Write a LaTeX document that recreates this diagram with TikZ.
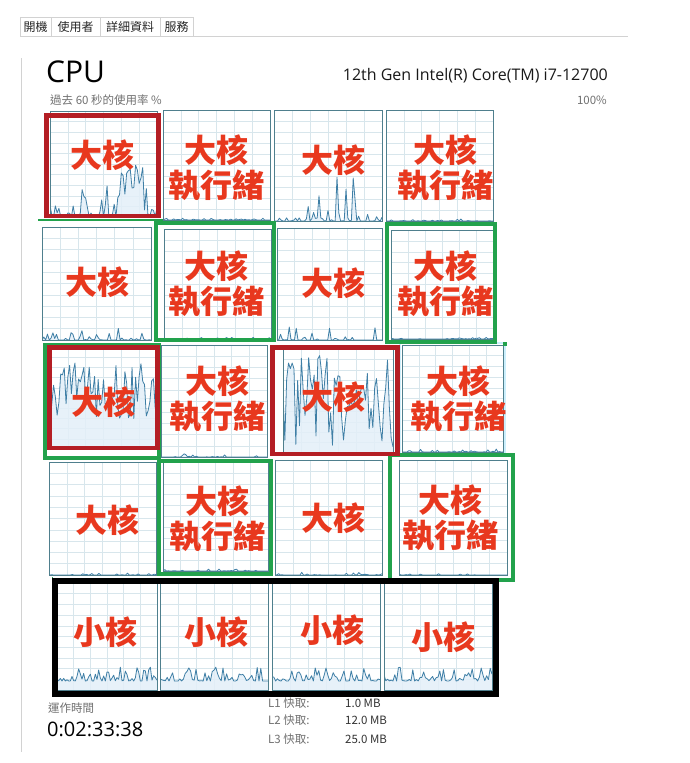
\documentclass[tikz,border=0pt]{standalone}
\usepackage{fontspec}
\setmainfont{Open Sans}
\newfontfamily\cjk{Noto Sans CJK TC}
\definecolor{gridcol}{HTML}{D8E6EC}
\definecolor{framecol}{HTML}{4F7F8D}
\definecolor{linecol}{HTML}{3F7FA6}
\definecolor{fillcol}{HTML}{E3EFF8}
\definecolor{redcol}{HTML}{B41E24}
\definecolor{greencol}{HTML}{22A24C}
\definecolor{labelcol}{HTML}{E8381E}
\definecolor{txtgray}{HTML}{707070}
\definecolor{tabline}{HTML}{D2D2D2}
\tikzset{
  gridc/.style={draw=gridcol, line width=0.6pt},
  cellframe/.style={draw=framecol, line width=0.9pt},
  redbox/.style={draw=redcol, line width=4.5pt},
  greenbox/.style={draw=greencol, line width=4pt},
  blackbox/.style={draw=black, line width=6pt},
  biglabel/.style={text=labelcol, font=\cjk\bfseries\fontsize{32}{35}\selectfont, align=center, inner sep=0pt},
  smalltxt/.style={font=\cjk\fontsize{11.5}{13}\selectfont, inner sep=0pt},
  tabbox/.style={draw=tabline, line width=0.8pt, fill=white},
}
% x0 y0 x1 y1 seed height-expression (in \px and rnd)
\newcommand\cpucell[6]{%
  \fill[white] (#1,#2) rectangle (#3,#4);
  \foreach \ii in {1,...,5} {\draw[gridc] ({#1+(#3-#1)*\ii/6},#2) -- ({#1+(#3-#1)*\ii/6},#4);}
  \foreach \jj in {1,...,9} {\draw[gridc] (#1,{#2+(#4-#2)*\jj/10}) -- (#3,{#2+(#4-#2)*\jj/10});}
  \begin{scope}
    \clip (#1,#2) rectangle (#3,#4);
    \pgfmathsetseed{#5}
    \fill[fillcol, opacity=0.85] (#1,#4) -- plot[domain=#1:#3, samples=61, variable=\px] (\px,{#4-(#6)}) -- (#3,#4) -- cycle;
    \pgfmathsetseed{#5}
    \draw[linecol, line width=0.8pt, line join=round] plot[domain=#1:#3, samples=61, variable=\px] (\px,{#4-(#6)});
  \end{scope}
  \draw[cellframe] (#1,#2) rectangle (#3,#4);
}
\begin{document}
\begin{tikzpicture}[x=1pt,y=-1pt]
\useasboundingbox[fill=white] (0,0) rectangle (690,763);

% tab bar
\draw[tabline, line width=0.8pt] (20,36.5) -- (628,36.5);
\draw[tabbox] (20,17) rectangle (51,36.5);
\draw[tabbox] (51,17) rectangle (100,36.5);
\draw[tabbox] (100,17) rectangle (160,36.5);
\draw[tabbox] (160,17) rectangle (193,36.5);
\node[smalltxt, font=\cjk\fontsize{12}{13}\selectfont, text=black!85] (tab1) at (35.5,27) {開機};
\node[smalltxt, font=\cjk\fontsize{12}{13}\selectfont, text=black!85] (tab2) at (75.5,27) {使用者};
\node[smalltxt, font=\cjk\fontsize{12}{13}\selectfont, text=black!85] (tab3) at (130,27) {詳細資料};
\node[smalltxt, font=\cjk\fontsize{12}{13}\selectfont, text=black!85] (tab4) at (176.5,27) {服務};
\draw[tabline, line width=1pt] (21.5,58) -- (21.5,752);

% header
\node[anchor=base west, inner sep=0pt, font=\fontsize{30}{34}\selectfont, text=black] (cpu) at (46,82) {CPU};
\node[anchor=base east, inner sep=0pt, font=\fontsize{16}{18}\selectfont, text=black!90] (model) at (608,80) {12th Gen Intel(R) Core(TM) i7-12700};
\node[smalltxt, anchor=west, text=txtgray] (usage) at (50,100) {過去 60 秒的使用率 \%};
\node[smalltxt, anchor=east, text=txtgray] (pct) at (607,100) {100\%};

% row 1
\cpucell{50}{111}{157}{217}{11}{((\px>119 && \px<143) ? (22+30*rnd) : (36*rnd^3))}
\cpucell{163}{110}{270}{220}{12}{(2*rnd^8)}
\cpucell{274}{110}{382}{221}{13}{((\px>305) ? (44*rnd^5) : (4*rnd^8))}
\cpucell{386}{110}{493}{221}{14}{(2*rnd^8)}
% row 2
\cpucell{42}{227}{151}{340}{21}{(12*rnd^6)}
\cpucell{164}{229}{271}{339}{22}{(2*rnd^8)}
\cpucell{277}{228}{382}{340}{23}{(14*rnd^12)}
\cpucell{391}{230}{493}{339}{24}{(2*rnd^8)}
% row 3
\cpucell{50}{347}{157}{449}{31}{(28+62*rnd)}
\cpucell{161}{345}{267}{457}{32}{(4*rnd^10)}
\cpucell{283}{349}{393}{453}{33}{(6+92*rnd)}
\draw[cyan!20, line width=2pt] (400,343) rectangle (505,455);
\cpucell{402}{345}{503}{452}{34}{(3*rnd^10)}
% row 4
\cpucell{49}{462}{156}{575}{41}{(2*rnd^10)}
\cpucell{163}{462}{268}{571}{42}{(2*rnd^10)}
\cpucell{275}{460}{382}{575}{43}{(3*rnd^10)}
\cpucell{399}{460}{507}{575}{44}{(2*rnd^10)}
% row 5 (small cores)
\cpucell{57}{583}{157}{690}{51}{(9+14*rnd^3)}
\cpucell{160}{583}{268}{690}{52}{(9+14*rnd^3)}
\cpucell{272}{583}{380}{690}{53}{(9+14*rnd^3)}
\cpucell{384}{583}{492}{690}{54}{(9+14*rnd^3)}

% highlight boxes
\draw[greencol, line width=2pt] (38,219.5) -- (163,219.5);
\draw[greenbox] (156,223) rectangle (274,340);
\draw[greenbox] (387,224) rectangle (495,342);
\draw[greenbox] (45,345) rectangle (159,458);
\draw[greenbox] (158.5,460.5) rectangle (270.5,573.5);
\draw[greenbox] (389.5,454.5) rectangle (512.5,580);
\fill[greencol] (503,342) rectangle (507,346);
\draw[redbox] (46.5,115.5) rectangle (158.5,216);
\draw[redbox] (49.5,347.5) rectangle (157.5,448);
\draw[redbox] (272.5,347.5) rectangle (397.5,454);
\draw[greencol, line width=1pt] (52.5,577) -- (52.5,697);
\draw[blackbox] (55,581) rectangle (496,693.5);

% labels
\node[biglabel] (b11) at (102,155) {大核};
\node[biglabel] (b12) at (216,168) {大核\\執行緒};
\node[biglabel] (b13) at (333,160) {大核};
\node[biglabel] (b14) at (445,168) {大核\\執行緒};
\node[biglabel] (b21) at (97,282) {大核};
\node[biglabel] (b22) at (216,284) {大核\\執行緒};
\node[biglabel] (b23) at (333,283) {大核};
\node[biglabel] (b24) at (445,284) {大核\\執行緒};
\node[biglabel] (b31) at (103,402) {大核};
\node[biglabel] (b32) at (217,399) {大核\\執行緒};
\node[biglabel] (b33) at (333,397) {大核};
\node[biglabel] (b34) at (458,399) {大核\\執行緒};
\node[biglabel] (b41) at (107,520) {大核};
\node[biglabel] (b42) at (217,519) {大核\\執行緒};
\node[biglabel] (b43) at (333,518) {大核};
\node[biglabel] (b44) at (450,518) {大核\\執行緒};
\node[biglabel] (s1) at (105,632) {小核};
\node[biglabel] (s2) at (216,632) {小核};
\node[biglabel] (s3) at (332,630) {小核};
\node[biglabel] (s4) at (443,637) {小核};

% footer
\node[smalltxt, anchor=west, text=txtgray] (uptl) at (48,708) {運作時間};
\node[anchor=west, inner sep=0pt, font=\fontsize{20}{22}\selectfont, text=black] (upt) at (47,729) {0:02:33:38};
\node[smalltxt, anchor=west, text=txtgray] (l1) at (268,703) {L1 快取:};
\node[smalltxt, anchor=west, text=txtgray] (l2) at (268,720) {L2 快取:};
\node[smalltxt, anchor=west, text=txtgray] (l3) at (268,739) {L3 快取:};
\node[smalltxt, anchor=west, text=black!80] (v1) at (345,703) {1.0 MB};
\node[smalltxt, anchor=west, text=black!80] (v2) at (345,720) {12.0 MB};
\node[smalltxt, anchor=west, text=black!80] (v3) at (345,739) {25.0 MB};
\end{tikzpicture}
\end{document}
